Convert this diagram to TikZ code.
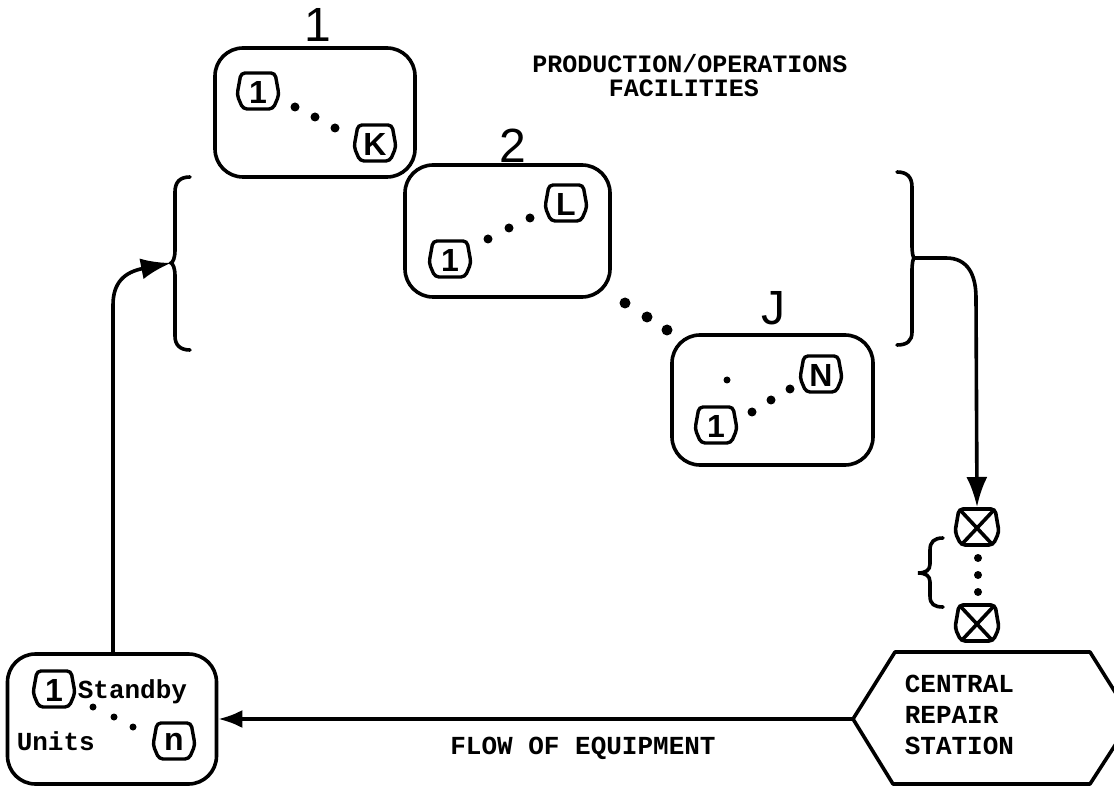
\documentclass[tikz,border=0pt]{standalone}
\usepackage{fontspec}
\setmainfont{Liberation Sans}
\newfontfamily\plotfont{Liberation Mono}
\usetikzlibrary{arrows.meta}
\tikzset{
  box/.style={draw, line width=3.6pt, rounded corners=28pt, inner sep=0pt},
  plottext/.style={font=\plotfont\bfseries\fontsize{26}{31}\selectfont, inner sep=0pt},
  titletext/.style={font=\plotfont\bfseries\fontsize{25}{25}\selectfont, inner sep=0pt},
  biglabel/.style={font=\fontsize{48}{48}\selectfont, inner sep=0pt},
  unitlabel/.style={font=\bfseries\fontsize{32}{32}\selectfont, inner sep=0pt},
  pics/unit/.style={code={
    \draw[line width=3.4pt, rounded corners=4pt] (-17,-18) -- (17,-18) -- (21,4) -- (15,18) -- (-15,18) -- (-21,4) -- cycle;
    \node[unitlabel] (-lab) at (0,1) {#1};
  }},
  pics/xunit/.style={code={
    \draw[line width=3.6pt, rounded corners=4pt] (-18,-18) -- (18,-18) -- (22,5) -- (16,18) -- (-16,18) -- (-22,5) -- cycle;
    \draw[line width=3.6pt] (-16,-16) -- (14,16) (16,-16) -- (-14,16);
    \coordinate (-n) at (0,-20);
  }},
  bigdot/.style={fill=black},
  flow/.style={line width=3.6pt, -{Latex[length=30pt,width=21pt]}},
  bracepath/.style={line width=3.6pt, line cap=round}
}
\begin{document}
\begin{tikzpicture}[x=1pt,y=-1pt,line width=3.6pt]
\useasboundingbox (0,0) rectangle (1114,791);
\clip (0,0) rectangle (1114,791);

% title
\node[titletext] (title1) at (690,64) {PRODUCTION/OPERATIONS};
\node[titletext] (title2) at (684,88) {FACILITIES};

% facility 1
\node[box, minimum width=200pt, minimum height=129pt] (box1) at (315,112.5) {};
\node[biglabel] (lab1) at (318,25) {1};
\pic (u1a) at (258,91) {unit=1};
\pic (uK) at (375,143) {unit=K};
\foreach \p in {(295,107),(315,117),(335,128)} \fill[bigdot] \p circle[radius=4.5pt];

% facility 2
\node[box, minimum width=205pt, minimum height=132pt] (box2) at (507.5,231) {};
\node[biglabel] (lab2) at (513,146) {2};
\pic (u2a) at (450,259) {unit=1};
\pic (uL) at (566,203) {unit=L};
\foreach \p in {(488,239),(509,228),(530,218)} \fill[bigdot] \p circle[radius=4.5pt];

% dots between facilities
\foreach \p in {(625,303),(647,317),(667,330)} \fill[bigdot] \p circle[radius=5.5pt];

% facility J
\node[box, minimum width=201pt, minimum height=130pt] (boxJ) at (772.5,400) {};
\node[biglabel] (labJ) at (773,308) {J};
\pic (uJ1) at (716,425) {unit=1};
\pic (uN) at (821,374) {unit=N};
\fill[bigdot] (727,380) circle[radius=3.5pt];
\foreach \p in {(752,412),(771,400),(790,389)} \fill[bigdot] \p circle[radius=4.5pt];

% braces
\coordinate (lb) at (171,263);
\coordinate (rb) at (914,258);
\draw[bracepath] (190,177) .. controls (180,177) and (175,182) .. (175,192) -- (175,250)
  .. controls (175,258) and (173,262) .. (lb)
  .. controls (173,264) and (175,268) .. (175,276) -- (175,336)
  .. controls (175,345) and (180,350) .. (190,350);
\draw[bracepath] (897,172) .. controls (907,172) and (912,177) .. (912,187) -- (912,245)
  .. controls (912,253) and (913,257) .. (rb)
  .. controls (913,259) and (912,263) .. (912,271) -- (912,332)
  .. controls (912,341) and (907,345) .. (897,345);

% repair queue
\pic (x1) at (977,527) {xunit};
\pic (x2) at (977,623) {xunit};
\foreach \p in {(978,558),(978,575),(978,592)} \fill[bigdot] \p circle[radius=4pt];
\draw[bracepath] (943,538) .. controls (934,538) and (930,542) .. (930,550) -- (930,564)
  .. controls (930,570) and (926,573) .. (918,573)
  .. controls (926,573) and (930,576) .. (930,582) -- (930,596)
  .. controls (930,604) and (934,607) .. (943,607);

% central repair station
\draw[line width=3.6pt, line join=round] (853,719) -- (895,652) -- (1090,652) -- (1132,719) -- (1090,784) -- (893,784) -- cycle;
\coordinate (crsW) at (853,719);
\node[plottext, anchor=west, align=left] (crs) at (903,715) {CENTRAL\\REPAIR\\STATION};

% standby units
\node[box, minimum width=209pt, minimum height=130pt] (standby) at (112,719) {};
\pic (s1) at (54,689) {unit=1};
\pic (sn) at (174,741) {unit=n};
\node[plottext, anchor=base west] (sbtxt) at (76,698) {Standby};
\node[plottext, anchor=base west] (untxt) at (15,750) {Units};
\foreach \p in {(93,707),(114,717),(133,727)} \fill[bigdot] \p circle[radius=3.5pt];

% flow label
\node[plottext] (flowlab) at (583,748) {FLOW OF EQUIPMENT};

% connectors
\draw[flow] (rb) -- (946,258) .. controls (968,258) and (976,275) .. (976,298) -- (x1-n);
\draw[flow, -{Latex[length=24pt,width=18pt]}] (crsW) -- (standby.east);
\draw[flow] (standby.north -| 113,0) -- (113,305) .. controls (113,282) and (125,272) .. (lb);
\end{tikzpicture}
\end{document}
